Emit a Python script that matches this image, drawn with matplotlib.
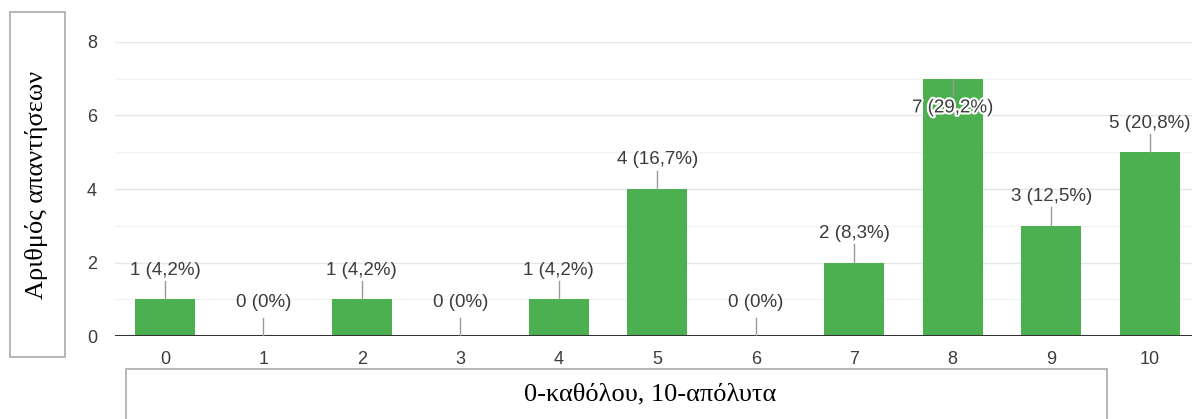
import matplotlib.pyplot as plt
import matplotlib.patheffects as pe
from matplotlib.patches import Rectangle

# data
scores = [0, 1, 2, 3, 4, 5, 6, 7, 8, 9, 10]
counts = [1, 0, 1, 0, 1, 4, 0, 2, 7, 3, 5]
percents = ['4,2%', '0%', '4,2%', '0%', '4,2%', '16,7%', '0%', '8,3%', '29,2%', '12,5%', '20,8%']
y_ticks = [0, 2, 4, 6, 8]

W, H = 1192, 419
fig = plt.figure(figsize=(W / 100, H / 100), dpi=100)

# plot area in pixel coords
left, right, top, bottom = 115, 1192, 42, 336
ax = fig.add_axes([left / W, (H - bottom) / H, (right - left) / W, (bottom - top) / H])

green = '#4caf50'
txt = '#3c3c3c'
sans = ['Liberation Sans', 'DejaVu Sans']

ax.bar(scores, counts, width=0.61, color=green, zorder=3)
ax.set_ylim(0, 8)
ax.set_xlim(-0.507, 10.43)

# grid: major and minor horizontal lines
for v in range(1, 9):
    ax.axhline(v, color='#e6e6e6' if v % 2 == 0 else '#f3f3f3', lw=1, zorder=1)
ax.axhline(0, color='#333333', lw=1.5, zorder=4)

for s in ax.spines.values():
    s.set_visible(False)
ax.set_yticks(y_ticks)
ax.set_xticks(scores)
ax.tick_params(axis='both', length=0, labelsize=13, colors=txt)
ax.tick_params(axis='y', pad=13)
ax.tick_params(axis='x', pad=11)
for lbl in ax.get_xticklabels() + ax.get_yticklabels():
    lbl.set_family(sans)

# value labels with leader lines
for x, c, p in zip(scores, counts, percents):
    label = f'{c} ({p})'
    if c >= 7:
        ax.plot([x, x], [c, c - 0.45], color='#999999', lw=1, zorder=5)
        ax.annotate(label, (x, c), xytext=(0, -21), textcoords='offset points',
                    ha='center', va='center', fontsize=13.5, color=txt,
                    family=sans, zorder=6,
                    path_effects=[pe.withStroke(linewidth=3, foreground='white')])
    else:
        off = 24 if c == 0 else 21
        ax.plot([x, x], [c, c + 0.5], color='#999999', lw=1, zorder=5)
        ax.annotate(label, (x, c), xytext=(0, off), textcoords='offset points',
                    ha='center', va='center', fontsize=13.5, color=txt,
                    family=sans, zorder=6)

# boxed axis titles
def px_box(x0, y0, x1, y1):
    fig.patches.append(Rectangle((x0 / W, 1 - y1 / H), (x1 - x0) / W, (y1 - y0) / H,
                                 transform=fig.transFigure, fill=False,
                                 edgecolor='#aaaaaa', lw=1.2))

px_box(10, 12, 65, 357)
fig.text(37 / W, 1 - 185 / H, 'Αριθμός απαντήσεων', rotation=90, ha='center', va='center',
         fontsize=19, family='Liberation Serif', color='black')

px_box(126, 369, 1107, 430)
fig.text(650 / W, 1 - 394 / H, '0-καθόλου, 10-απόλυτα', ha='center', va='center',
         fontsize=19, family='Liberation Serif', color='black')

fig.savefig('out.png', dpi=100)
